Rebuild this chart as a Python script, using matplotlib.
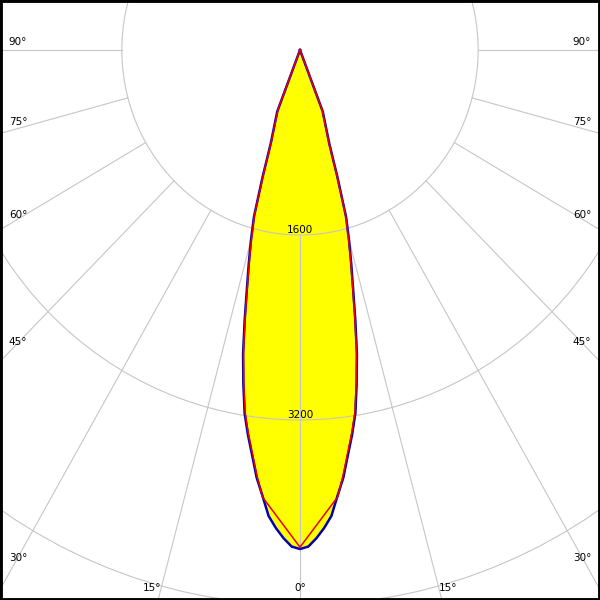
import numpy as np
import matplotlib
matplotlib.use("Agg")
import matplotlib.pyplot as plt
from matplotlib.patches import Circle

# ---- data (luminous intensity, cd) ----
blue_angles = [0, 1, 2, 3, 4, 5, 6, 7, 8, 9, 10, 11, 12, 13, 14, 15, 16, 17, 18, 19, 20, 21, 22, 30, 45, 60, 75, 90]
blue_values = [4316, 4295, 4225, 4140, 4040, 3870, 3720, 3530, 3360, 3180, 2930, 2680, 2390, 2120,
               1900, 1700, 1500, 1150, 850, 730, 640, 570, 0, 0, 0, 0, 0, 0]

red_angles = [0, 5, 6, 7, 8, 9, 10, 11, 12, 13, 14, 15, 16, 17, 18, 19, 20, 21, 22, 30, 45, 60, 75, 90]
red_values = [4300, 3880, 3700, 3512, 3342, 3162, 2912, 2662, 2372, 2102,
              1882, 1682, 1482, 1132, 832, 712, 622, 552, 0, 0, 0, 0, 0, 0]

ring_values = [1600, 3200, 4800]
ring_labels = ["1600", "3200"]
grid_angles = list(range(-90, 91, 15))
side_label_angles = [30, 45, 60, 75, 90]
bottom_label_angles = [-15, 0, 15]

# ---- geometry ----
PXY = 185.0 / 1600         # px per cd, vertical
PXX = PXY * 0.963          # px per cd, horizontal
W, CY = 300.0, 50.0        # half width (px), centre from top (px)

fig = plt.figure(figsize=(6, 6), dpi=100)
ax = fig.add_axes([0, 0, 1, 1])
ax.set_xlim(-W / PXX, W / PXX)
ax.set_ylim(-(600 - CY) / PXY, CY / PXY)
ax.set_xticks([])
ax.set_yticks([])
for s in ax.spines.values():
    s.set_linewidth(3.5)
    s.set_color("black")


def mirror(angles, values):
    a = np.array(angles, float)
    v = np.array(values, float)
    full_a = np.concatenate([-a[::-1], a[1:]])
    full_v = np.concatenate([v[::-1], v[1:]])
    return full_a, full_v


def to_xy(angles_deg, values):
    t = np.radians(angles_deg)
    return values * np.sin(t), -values * np.cos(t)


ba, bv = mirror(blue_angles, blue_values)
ra, rv = mirror(red_angles, red_values)
bx, by = to_xy(ba, bv)
rx, ry = to_xy(ra, rv)

# fill
ax.fill(bx, by, color="#ffff00", zorder=1, lw=0)

# grid
gcol = "#c6c6c6"
for r in ring_values:
    ax.add_patch(Circle((0, 0), r, fill=False, ec=gcol, lw=0.8, zorder=2))
for a in grid_angles:
    t = np.radians(a)
    rr = np.array([ring_values[0], 12000.0])
    ax.plot(rr * np.sin(t), -rr * np.cos(t), color=gcol, lw=0.8, zorder=2)

# curves
ax.plot(bx, by, color="#0000b4", lw=1.8, zorder=3, solid_joinstyle="round")
ax.plot(rx, ry, color="#e80000", lw=1.1, zorder=4, solid_joinstyle="round")

# labels
fs = 7.5
for v, lab in zip(ring_values, ring_labels):
    ax.text(0, -v + 5 / PXY, lab, ha="center", va="center", fontsize=fs, color="black", zorder=5)

xl = (W - 18) / PXX          # label centre distance from axis (data units)
for a in side_label_angles:
    t = np.radians(a)
    y = -xl / np.tan(t) if a != 90 else 0.0
    y += (8 * np.sin(t) ** 4 - 3 * np.cos(t) ** 4) / PXY
    ax.text(-xl, y, f"{a}°", ha="center", va="center", fontsize=fs, zorder=5)
    ax.text(xl, y, f"{a}°", ha="center", va="center", fontsize=fs, zorder=5)

ye = (600 - CY - 12) / PXY
for a in bottom_label_angles:
    t = np.radians(a)
    x = ye * np.tan(t) + np.sign(a) * 9 / PXX
    ax.text(x, -ye, f"{abs(a)}°", ha="center", va="center", fontsize=fs, zorder=5)

fig.savefig("out.png", dpi=100)
